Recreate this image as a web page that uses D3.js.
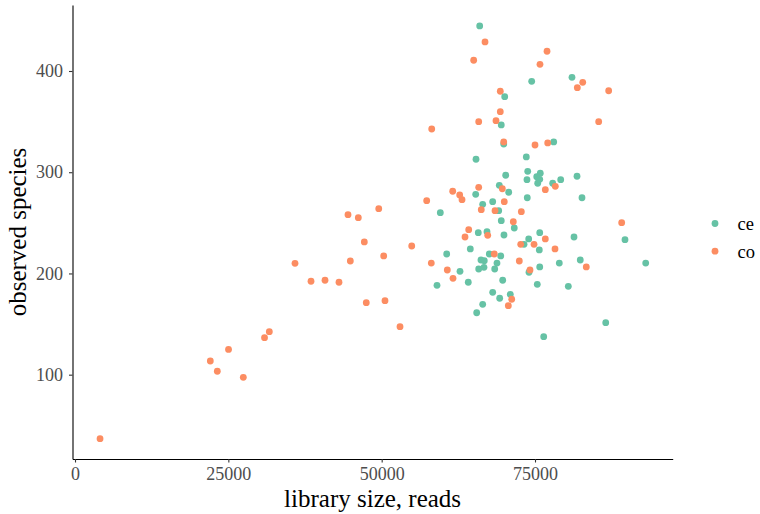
<!DOCTYPE html>
<html>
<head>
<meta charset="utf-8">
<script src="https://cdn.jsdelivr.net/npm/d3@7"></script>
<style>
  html, body { margin: 0; padding: 0; background: #ffffff; }
  svg { display: block; font-family: "Liberation Serif", "Times New Roman", serif; }
</style>
</head>
<body>
<svg id="chart" width="760" height="514"></svg>
<script>
// Library size (reads) vs observed species, per group
const groups = ["ce", "co"];
const groupColors = ["#66c2a5", "#fc8d62"];

const ceReads = [65980, 74460, 81030, 70060, 69500, 69900, 78050, 65380, 73580, 70220,
  73810, 73690, 75280, 75860, 75440, 75770, 77880, 79190, 81850, 82660,
  69180, 70710, 65330, 59560, 66470, 68100, 73740, 69080, 69500, 71620,
  65750, 67170, 69940, 75770, 73970, 81360, 89670, 64450, 73210, 75700,
  60600, 67550, 69410, 66190, 66730, 68800, 65820, 66680, 68430, 62770,
  74020, 75770, 78960, 82380, 93050, 59020, 64120, 69730, 75370, 80430,
  68100, 69240, 70970, 66470, 65490, 86530, 76420];
const ceSpecies = [444.5, 389.8, 393.8, 374.6, 346.7, 327.9, 329.9, 312.8, 315.1, 297.0,
  300.9, 292.6, 295.6, 299.0, 289.1, 293.0, 289.1, 292.6, 296.0, 274.8,
  287.1, 280.2, 278.2, 260.0, 268.3, 270.9, 274.8, 262.0, 252.1, 244.9,
  240.3, 241.3, 238.0, 240.3, 234.1, 236.0, 233.4, 224.2, 228.8, 223.2,
  219.2, 219.2, 217.3, 213.3, 212.6, 210.3, 204.4, 206.1, 204.4, 202.1,
  201.2, 206.4, 210.3, 213.3, 210.3, 188.3, 191.3, 193.3, 189.3, 187.3,
  181.4, 175.5, 179.4, 169.5, 161.2, 151.4, 137.5];

const coReads = [66850, 65000, 76960, 75810, 82780, 81900, 87010, 69340, 69340, 65820,
  68640, 58160, 85380, 69900, 75000, 77070, 76680, 78310, 69670, 65820,
  61580, 62720, 63100, 57340, 69990, 66240, 68480, 72770, 71460, 64190,
  63590, 67290, 76680, 89130, 54900, 72670, 74840, 78260, 58090, 68360,
  72440, 60700, 74180, 83360, 61630, 71200, 70650, 52990, 49520, 44510,
  46190, 47170, 35870, 44890, 50330, 38480, 40760, 43040, 47490, 50540,
  31680, 30900, 25030, 22060, 23200, 27440, 4080];
const coSpecies = [428.7, 410.6, 419.5, 406.6, 388.8, 383.5, 380.5, 380.0, 359.8, 349.9,
  350.9, 342.7, 349.9, 329.9, 326.9, 328.9, 282.8, 286.1, 283.7, 285.1,
  281.2, 277.5, 272.9, 271.9, 270.9, 263.0, 262.0, 261.0, 251.1, 243.2,
  236.0, 237.7, 234.1, 250.2, 227.1, 228.8, 228.8, 224.2, 210.3, 219.2,
  212.3, 203.4, 203.4, 206.4, 195.2, 174.5, 168.2, 147.4, 264.0, 258.1,
  255.1, 231.1, 210.0, 212.3, 217.3, 192.3, 193.3, 191.3, 171.1, 173.1,
  142.5, 136.6, 124.9, 113.5, 103.4, 97.4, 36.8];

const xTicks = [0, 25000, 50000, 75000];
const yTicks = [100, 200, 300, 400];
const xTitle = "library size, reads";
const yTitle = "observed species";

const seriesReads = [ceReads, coReads];
const seriesSpecies = [ceSpecies, coSpecies];

const svg = d3.select("#chart");
const panel = { left: 72.5, right: 672.7, top: 5, bottom: 459 };

const x = d3.scaleLinear().domain([-410, 97450]).range([panel.left, panel.right]);
const y = d3.scaleLinear().domain([16.7, 465.2]).range([panel.bottom, panel.top]);

// Points: one layer per group
groups.forEach((g, gi) => {
  const pts = seriesReads[gi].map((r, i) => ({ r, s: seriesSpecies[gi][i] }));
  svg.append("g")
    .selectAll("circle")
    .data(pts)
    .join("circle")
    .attr("cx", d => x(d.r))
    .attr("cy", d => y(d.s))
    .attr("r", 3.4)
    .attr("fill", groupColors[gi]);
});

// Axes
const xAxis = svg.append("g")
  .attr("transform", `translate(0,${panel.bottom})`)
  .call(d3.axisBottom(x).tickValues(xTicks).tickFormat(d3.format("d")).tickSize(3.5).tickSizeOuter(0).tickPadding(4.5));
const yAxis = svg.append("g")
  .attr("transform", `translate(${panel.left},0)`)
  .call(d3.axisLeft(y).tickValues(yTicks).tickFormat(d3.format("d")).tickSize(3.5).tickSizeOuter(0).tickPadding(6));

[xAxis, yAxis].forEach(a => {
  a.select(".domain").attr("stroke", "#000").attr("stroke-width", 1.1);
  a.selectAll(".tick line").attr("stroke", "#333").attr("stroke-width", 1.1);
  a.selectAll(".tick text")
    .attr("fill", "#4d4d4d")
    .style("font-family", "'Liberation Serif', serif")
    .style("font-size", "18px");
});

// Axis titles
svg.append("text")
  .attr("x", (panel.left + panel.right) / 2)
  .attr("y", 506.5)
  .attr("text-anchor", "middle")
  .style("font-size", "25px")
  .attr("fill", "#000")
  .text(xTitle);

svg.append("text")
  .attr("transform", `translate(26,${(panel.top + panel.bottom) / 2}) rotate(-90)`)
  .attr("text-anchor", "middle")
  .style("font-size", "25px")
  .attr("fill", "#000")
  .text(yTitle);

// Legend
const legend = svg.append("g");
groups.forEach((g, gi) => {
  const cy = 223.5 + gi * 27.7;
  legend.append("circle")
    .attr("cx", 715)
    .attr("cy", cy)
    .attr("r", 3.4)
    .attr("fill", groupColors[gi]);
  legend.append("text")
    .attr("x", 737.5)
    .attr("y", cy)
    .attr("dy", "0.35em")
    .style("font-size", "18.5px")
    .attr("fill", "#000")
    .text(g);
});
</script>
</body>
</html>
